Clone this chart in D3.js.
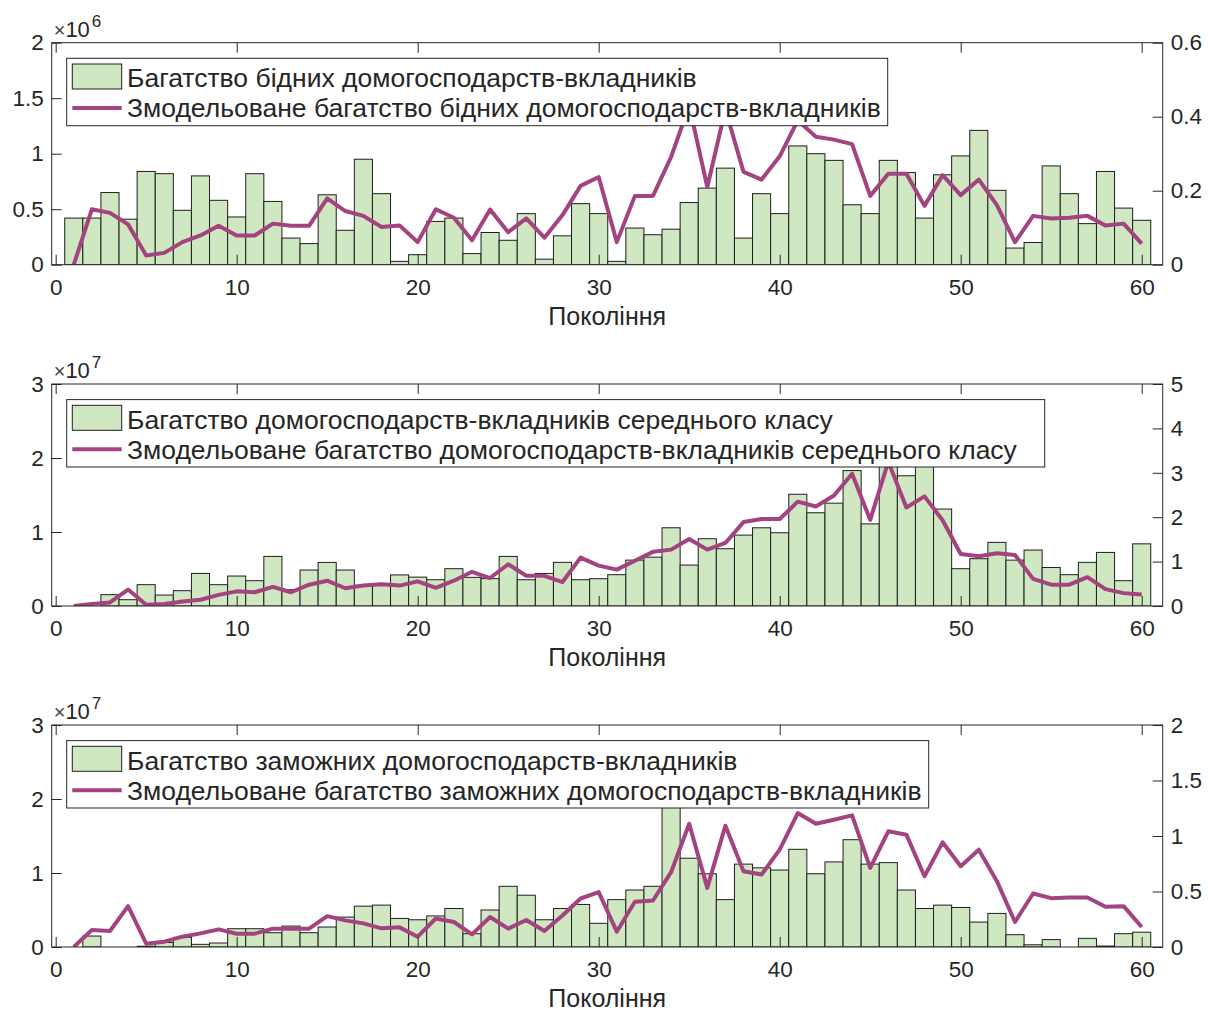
<!DOCTYPE html>
<html>
<head>
<meta charset="utf-8">
<script src="https://cdn.jsdelivr.net/npm/d3@7"></script>
<style>
  body { margin: 0; background: #fff; }
  svg { display: block; }
  text { font-family: "Liberation Sans", Arial, Helvetica, sans-serif; fill: #262626; }
</style>
</head>
<body>
<svg id="chart" width="1208" height="1012"></svg>
<script>
// Generations on the x axis
const generations = [1,2,3,4,5,6,7,8,9,10,11,12,13,14,15,16,17,18,19,20,
  21,22,23,24,25,26,27,28,29,30,31,32,33,34,35,36,37,38,39,40,
  41,42,43,44,45,46,47,48,49,50,51,52,53,54,55,56,57,58,59,60];
const xTicks = [0, 10, 20, 30, 40, 50, 60];
const xLabel = "Покоління";

// Poor depositor households (bars in units of 10^6, model on the right axis)
const poorWealth = [0.42,0.42,0.65,0.41,0.84,0.82,0.49,0.80,0.58,0.43,
  0.82,0.57,0.24,0.19,0.63,0.31,0.95,0.64,0.03,0.09,
  0.39,0.42,0.10,0.29,0.22,0.46,0.05,0.26,0.55,0.46,
  0.03,0.33,0.27,0.32,0.56,0.69,0.87,0.24,0.64,0.46,
  1.07,1.00,0.94,0.54,0.46,0.94,0.83,0.42,0.81,0.98,
  1.21,0.67,0.15,0.20,0.89,0.64,0.37,0.84,0.51,0.40];
const poorModel = [0.000,0.150,0.140,0.109,0.025,0.032,0.061,0.079,0.105,0.079,
  0.079,0.111,0.105,0.105,0.179,0.145,0.132,0.102,0.106,0.061,
  0.150,0.127,0.066,0.149,0.088,0.125,0.073,0.134,0.213,0.237,
  0.061,0.186,0.186,0.291,0.430,0.210,0.420,0.251,0.230,0.293,
  0.390,0.346,0.338,0.326,0.186,0.246,0.246,0.159,0.242,0.188,
  0.230,0.161,0.061,0.132,0.125,0.127,0.132,0.106,0.111,0.057];

// Middle-class depositor households (bars in units of 10^7)
const middleWealth = [0.00,0.00,0.153,0.085,0.288,0.148,0.207,0.44,0.288,0.405,
  0.342,0.67,0.22,0.486,0.589,0.486,0.28,0.29,0.42,0.39,
  0.355,0.504,0.387,0.37,0.67,0.355,0.44,0.59,0.355,0.369,
  0.423,0.62,0.66,1.057,0.553,0.909,0.774,0.958,1.057,0.99,
  1.51,1.26,1.39,1.83,1.11,1.95,1.76,2.05,1.31,0.504,
  0.639,0.86,0.62,0.756,0.52,0.423,0.59,0.724,0.342,0.84];
const middleModel = [0.00,0.045,0.08,0.37,0.03,0.045,0.10,0.14,0.25,0.33,
  0.31,0.43,0.31,0.48,0.57,0.40,0.46,0.49,0.46,0.555,
  0.41,0.57,0.77,0.63,0.94,0.68,0.68,0.54,1.09,0.91,
  0.82,1.02,1.22,1.27,1.51,1.27,1.42,1.89,1.96,1.96,
  2.35,2.24,2.49,2.98,1.94,3.25,2.22,2.47,1.93,1.17,
  1.12,1.19,1.15,0.61,0.48,0.48,0.65,0.38,0.29,0.26];

// Wealthy depositor households (bars in units of 10^7)
const richWealth = [0.00,0.148,0.00,0.00,0.01,0.06,0.13,0.036,0.054,0.247,
  0.247,0.193,0.283,0.193,0.27,0.404,0.552,0.566,0.386,0.368,
  0.42,0.52,0.18,0.50,0.82,0.70,0.368,0.52,0.575,0.32,
  0.64,0.77,0.82,2.00,1.20,0.99,0.64,1.12,1.07,1.04,
  1.32,0.99,1.15,1.45,1.12,1.14,0.77,0.52,0.566,0.534,
  0.337,0.454,0.166,0.03,0.10,0.00,0.117,0.013,0.18,0.20];
const richModel = [0.000,0.153,0.144,0.368,0.030,0.048,0.093,0.123,0.159,0.120,
  0.120,0.165,0.165,0.165,0.278,0.240,0.213,0.168,0.177,0.093,
  0.257,0.225,0.114,0.270,0.165,0.243,0.144,0.284,0.437,0.494,
  0.138,0.407,0.419,0.674,1.110,0.533,1.093,0.683,0.653,0.877,
  1.207,1.110,1.147,1.186,0.713,1.042,1.012,0.638,0.943,0.728,
  0.877,0.593,0.225,0.482,0.440,0.446,0.446,0.362,0.368,0.180];

// Axis ticks and legend texts for each panel
const poorLeftTicks = [0, 0.5, 1, 1.5, 2];
const poorRightTicks = [0, 0.2, 0.4, 0.6];
const middleLeftTicks = [0, 1, 2, 3];
const middleRightTicks = [0, 1, 2, 3, 4, 5];
const richLeftTicks = [0, 1, 2, 3];
const richRightTicks = [0, 0.5, 1, 1.5, 2];
const exponents = ["6", "7", "7"];
const barLegend = [
  "Багатство бідних домогосподарств-вкладників",
  "Багатство домогосподарств-вкладників середнього класу",
  "Багатство заможних домогосподарств-вкладників"
];
const lineLegend = [
  "Змодельоване багатство бідних домогосподарств-вкладників",
  "Змодельоване багатство домогосподарств-вкладників середнього класу",
  "Змодельоване багатство заможних домогосподарств-вкладників"
];

const panels = [
  { bars: poorWealth, model: poorModel, leftTicks: poorLeftTicks, rightTicks: poorRightTicks },
  { bars: middleWealth, model: middleModel, leftTicks: middleLeftTicks, rightTicks: middleRightTicks },
  { bars: richWealth, model: richModel, leftTicks: richLeftTicks, rightTicks: richRightTicks }
];

// Layout
const plotLeft = 51.7, plotRight = 1162.7;
const plotTops = [42.7, 384, 725];
const plotHeight = 222;
const legendWidths = [821, 978, 862];
const barFill = "#d0e8c2", barEdge = "#1e1e1e", lineColor = "#a3437f", axisColor = "#262626";
const tickFont = 22.5, labelFont = 25, legendFont = 26.5;

const svg = d3.select("#chart");
const x = d3.scaleLinear().domain([-0.22, 61.16]).range([plotLeft, plotRight]);

panels.forEach((p, i) => {
  const top = plotTops[i], bottom = top + plotHeight;
  const leftMax = d3.max(p.leftTicks), rightMax = d3.max(p.rightTicks);
  const yL = d3.scaleLinear().domain([0, leftMax]).range([bottom, top]);
  const yR = d3.scaleLinear().domain([0, rightMax]).range([bottom, top]);
  const g = svg.append("g");

  const clipId = "clip" + i;
  svg.append("clipPath").attr("id", clipId)
    .append("rect").attr("x", plotLeft).attr("y", top)
    .attr("width", plotRight - plotLeft).attr("height", plotHeight);

  const data = generations.map((gen, k) => ({ gen, bar: p.bars[k], model: p.model[k] }));

  // Histogram-style bars
  g.append("g").attr("clip-path", `url(#${clipId})`)
    .selectAll("rect").data(data).join("rect")
    .attr("x", d => x(d.gen - 0.5))
    .attr("width", d => x(d.gen + 0.5) - x(d.gen - 0.5))
    .attr("y", d => yL(d.bar))
    .attr("height", d => yL(0) - yL(d.bar))
    .attr("fill", barFill)
    .attr("stroke", barEdge)
    .attr("stroke-width", 1);

  // Modelled wealth line on the right axis
  g.append("path").attr("clip-path", `url(#${clipId})`)
    .datum(data)
    .attr("fill", "none")
    .attr("stroke", lineColor)
    .attr("stroke-width", 4)
    .attr("stroke-linejoin", "round")
    .attr("d", d3.line().x(d => x(d.gen)).y(d => yR(d.model)));

  // Axes box
  g.append("rect").attr("x", plotLeft).attr("y", top)
    .attr("width", plotRight - plotLeft).attr("height", plotHeight)
    .attr("fill", "none").attr("stroke", axisColor).attr("stroke-width", 1);

  const styleAxis = sel => {
    sel.attr("font-size", null).attr("font-family", null);
    sel.select(".domain").remove();
    sel.selectAll(".tick line").attr("stroke", axisColor);
    sel.selectAll("text").style("font-size", tickFont + "px").attr("fill", axisColor);
  };

  g.append("g").attr("transform", `translate(0,${bottom})`)
    .call(d3.axisBottom(x).tickValues(xTicks).tickFormat(d3.format("d"))
      .tickSizeInner(-10).tickSizeOuter(0).tickPadding(14))
    .call(styleAxis);
  g.append("g").attr("transform", `translate(0,${top})`)
    .call(d3.axisTop(x).tickValues(xTicks).tickFormat("")
      .tickSizeInner(-10).tickSizeOuter(0))
    .call(styleAxis);
  g.append("g").attr("transform", `translate(${plotLeft},0)`)
    .call(d3.axisLeft(yL).tickValues(p.leftTicks).tickFormat(d3.format("~g"))
      .tickSizeInner(-10).tickSizeOuter(0).tickPadding(8))
    .call(styleAxis);
  g.append("g").attr("transform", `translate(${plotRight},0)`)
    .call(d3.axisRight(yR).tickValues(p.rightTicks).tickFormat(d3.format("~g"))
      .tickSizeInner(-10).tickSizeOuter(0).tickPadding(8))
    .call(styleAxis);

  // Exponent of the left axis
  const ex = g.append("text").attr("x", plotLeft + 2).attr("y", top - 6)
    .style("font-size", "22px");
  ex.append("tspan").text("×").style("font-size", "20px").attr("fill", "#444");
  ex.append("tspan").text("10");
  g.append("text").attr("x", plotLeft + 40).attr("y", top - 16)
    .style("font-size", "17px").text(exponents[i]);

  // x-axis label
  g.append("text").attr("x", (plotLeft + plotRight) / 2).attr("y", bottom + 60)
    .attr("text-anchor", "middle").style("font-size", labelFont + "px").text(xLabel);

  // Legend
  const lg = g.append("g").attr("transform", `translate(66.7,${top + 15.6})`);
  lg.append("rect").attr("x", 0).attr("y", 0).attr("height", 67.4)
    .attr("width", legendWidths[i])
    .attr("fill", "#fff").attr("stroke", axisColor).attr("stroke-width", 1);
  lg.append("rect").attr("x", 5.6).attr("y", 5.7).attr("width", 49.4).attr("height", 25)
    .attr("fill", barFill).attr("stroke", barEdge).attr("stroke-width", 1);
  lg.append("line").attr("x1", 5.6).attr("x2", 55).attr("y1", 49.7).attr("y2", 49.7)
    .attr("stroke", lineColor).attr("stroke-width", 4);
  lg.append("text").attr("x", 60.3).attr("y", 19.7 + legendFont * 0.35)
    .style("font-size", legendFont + "px").text(barLegend[i]);
  lg.append("text").attr("x", 60.3).attr("y", 49.7 + legendFont * 0.35)
    .style("font-size", legendFont + "px").text(lineLegend[i]);
});
</script>
</body>
</html>
